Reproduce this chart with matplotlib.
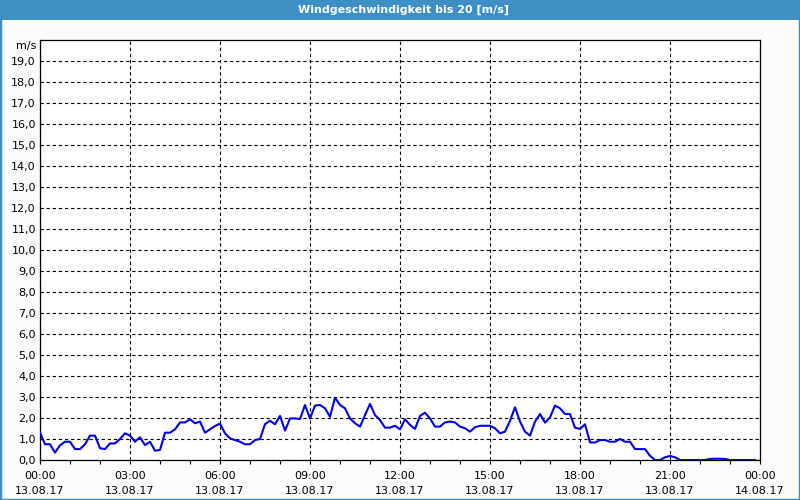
import matplotlib
matplotlib.use("Agg")
import matplotlib.pyplot as plt
from matplotlib.patches import Rectangle
from matplotlib.ticker import MultipleLocator
import numpy as np

# wind speed in m/s, one value every 10 minutes from 00:00 to 23:50
speed = [
    1.30, 0.75, 0.75, 0.35, 0.70, 0.87, 0.87, 0.52, 0.52, 0.75, 1.16, 1.16,
    0.56, 0.52, 0.79, 0.79, 1.00, 1.27, 1.16, 0.87, 1.08, 0.71, 0.87, 0.44,
    0.48, 1.30, 1.30, 1.46, 1.79, 1.79, 1.94, 1.75, 1.83, 1.30, 1.46, 1.62,
    1.73, 1.27, 1.03, 0.95, 0.87, 0.75, 0.75, 0.95, 1.00, 1.71, 1.87, 1.70,
    2.10, 1.40, 1.98, 1.98, 1.95, 2.62, 1.98, 2.59, 2.62, 2.46, 2.06, 2.97,
    2.62, 2.46, 1.98, 1.75, 1.59, 2.14, 2.67, 2.14, 1.90, 1.54, 1.54, 1.63,
    1.46, 1.94, 1.67, 1.48, 2.10, 2.25, 1.98, 1.59, 1.59, 1.79, 1.83, 1.79,
    1.59, 1.51, 1.35, 1.56, 1.63, 1.63, 1.63, 1.51, 1.27, 1.35, 1.87, 2.51,
    1.83, 1.35, 1.16, 1.83, 2.19, 1.78, 2.03, 2.59, 2.46, 2.19, 2.19, 1.54,
    1.48, 1.70, 0.84, 0.83, 0.95, 0.95, 0.87, 0.87, 1.00, 0.87, 0.87, 0.52,
    0.52, 0.52, 0.20, 0.00, 0.00, 0.13, 0.19, 0.13, 0.00, 0.00, 0.00, 0.00,
    0.00, 0.00, 0.05, 0.06, 0.06, 0.05, 0.00, 0.00, 0.00, 0.00, 0.00, 0.00,
]
hours = np.arange(len(speed)) / 6.0

tick_hours = [0, 3, 6, 9, 12, 15, 18, 21, 24]
tick_labels = ["00:00\n13.08.17", "03:00\n13.08.17", "06:00\n13.08.17",
               "09:00\n13.08.17", "12:00\n13.08.17", "15:00\n13.08.17",
               "18:00\n13.08.17", "21:00\n13.08.17", "00:00\n14.08.17"]
y_ticks = list(range(20))
y_labels = ["%d,0" % v for v in y_ticks]

title = "Windgeschwindigkeit bis 20 [m/s]"
blue = "#3d8fc6"

fig = plt.figure(figsize=(8, 5), dpi=100)
fig.patch.set_facecolor("#fbfdfb")

# title bar and frame
fig.patches.append(Rectangle((0, 1 - 20 / 500), 1, 20 / 500, transform=fig.transFigure,
                             facecolor=blue, edgecolor="none", zorder=0))
fig.patches.append(Rectangle((0, 0), 1, 1, transform=fig.transFigure, fill=False,
                             edgecolor=blue, linewidth=2.5, zorder=1))
fig.text(0.505, 1 - 10 / 500, title, color="white", fontsize=8, fontweight="bold",
         ha="center", va="center")

ax = fig.add_axes([40 / 800, 40 / 500, 720 / 800, 420 / 500])
ax.set_facecolor("white")
ax.plot(hours, speed, color="#0000e6", linewidth=1.5, zorder=3)

ax.set_xlim(0, 24)
ax.set_ylim(0, 20)
ax.set_xticks(tick_hours)
ax.set_xticklabels(tick_labels, fontsize=8, linespacing=1.6)
ax.xaxis.set_minor_locator(MultipleLocator(1))
ax.set_yticks(y_ticks)
ax.set_yticklabels(y_labels, fontsize=8)

ax.tick_params(axis="x", which="both", direction="out", length=3, width=0.8, pad=5)
ax.tick_params(axis="y", length=0, pad=3)

ax.grid(True, color="black", linestyle=(0, (3, 2.5)), linewidth=0.8)
ax.set_axisbelow(True)
for sp in ax.spines.values():
    sp.set_linewidth(0.9)

ax.text(-0.005, 1 - 6 / 420, "m/s", transform=ax.transAxes, fontsize=8,
        ha="right", va="center")

fig.savefig("out.png", dpi=100, facecolor=fig.get_facecolor())
